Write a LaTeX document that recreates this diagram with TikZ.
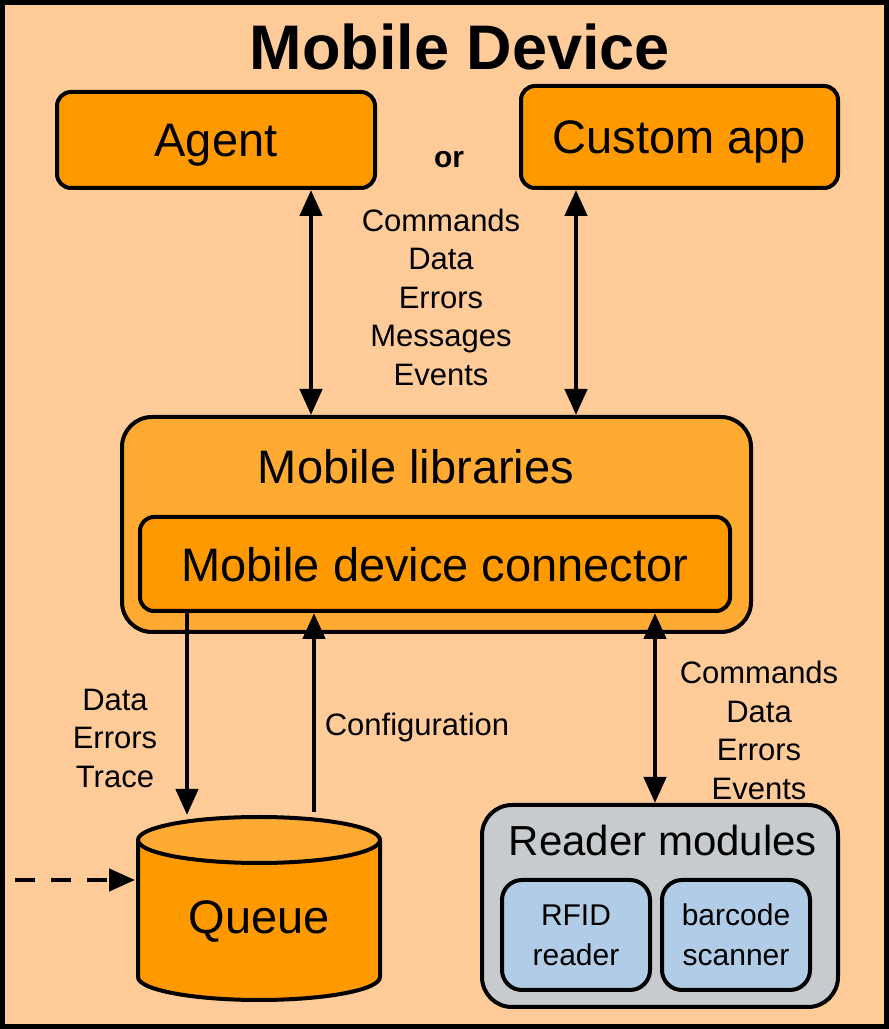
\documentclass[tikz,border=0pt]{standalone}
\usepackage{fontspec}
\setmainfont{Liberation Sans}
\usetikzlibrary{arrows.meta,calc}
\definecolor{peach}{HTML}{FFCC99}
\definecolor{orng}{HTML}{FF9900}
\definecolor{lightorng}{HTML}{FFAA33}
\definecolor{readergray}{HTML}{C8CBCE}
\definecolor{readerblue}{HTML}{B1CCE6}
\def\fs#1#2{\fontsize{#1}{#2}\selectfont}

\begin{document}
\begin{tikzpicture}[x=1pt,y=1pt,
	box/.style={draw, line width=4pt, fill=orng, rounded corners=14pt, inner sep=0pt, text depth=0pt},
	conn/.style={line width=4.5pt, -{Triangle[length=26pt,width=22pt]}},
	twoway/.style={line width=4.5pt, {Triangle[length=26pt,width=22pt]}-{Triangle[length=26pt,width=22pt]}},
	lbl/.style={align=center, font=\fs{31}{38.5}}]
		%%%%% START %%%%%
		
		\useasboundingbox (0,0) rectangle (889,1029);
		\fill[peach] (0,0) rectangle (889,1029);
		\draw[line width=5pt] (2.5,2.5) rectangle (886.5,1026.5);
		
		\node[anchor=base, font=\fs{63}{70}\bfseries] (title) at (460,959) {Mobile Device};
		
		\node[box, minimum width=318, minimum height=96] (agent) at (216,889) {\fs{47}{56}Agent};
		\node[box, minimum width=317, minimum height=102] (custom) at (679.5,892) {\fs{47}{56}Custom app};
		\node[font=\fs{30}{36}\bfseries] (or) at (449,869) {or};
		
		\node[box, fill=lightorng, rounded corners=30pt, minimum width=629, minimum height=215] (libs) at (436.5,504.5) {};
		\node (libtitle) at (416,562) {\fs{47}{56}Mobile libraries};
		\node[box, minimum width=590, minimum height=94] (connector) at (435,465) {\fs{47}{56}Mobile device connector};
		
		\draw[twoway] ($(agent.south)+(95,0)$) -- ($(libs.north)+(-125.5,0)$);
		\draw[twoway] ($(custom.south)+(-103.5,0)$) -- ($(libs.north)+(139.5,0)$);
		\node[lbl] (applbl) at (441,732) {Commands\\Data\\Errors\\Messages\\Events};
		
		% queue
		\fill[orng] (138,189) -- (138,52) arc[start angle=180, end angle=360, x radius=121, y radius=23] -- (380,189) -- cycle;
		\draw[line width=4pt, fill=lightorng] (259,189) ellipse[x radius=121, y radius=23];
		\draw[line width=4pt] (138,189) -- (138,52) arc[start angle=180, end angle=360, x radius=121, y radius=23] -- (380,189);
		\coordinate (qtop) at (187,214);
		\coordinate (qcfg) at (314,217);
		\coordinate (qleft) at (135,149);
		\coordinate (feed) at (15,149);
		\node (queue) at (259,107) {\fs{47}{56}Queue};
		
		\draw[conn, dash pattern=on 20pt off 16pt] (feed) -- (qleft);
		\draw[conn] (connector.south -| qtop) -- (qtop);
		\draw[conn] (qcfg) -- (connector.south -| qcfg);
		\node[lbl] (qlbl) at (115,291) {Data\\Errors\\Trace};
		\node[lbl] (cfglbl) at (417,302) {Configuration};
		
		% reader modules
		\node[box, fill=readergray, rounded corners=30pt, minimum width=356, minimum height=202] (reader) at (660,123) {};
		\node (readertitle) at (663,189) {\fs{42}{50}Reader modules};
		\node[box, fill=readerblue, rounded corners=20pt, minimum width=148, minimum height=110, align=center, font=\fs{30}{40}] (rfid) at (576,94) {RFID\\reader};
		\node[box, fill=readerblue, rounded corners=20pt, minimum width=148, minimum height=110, align=center, font=\fs{30}{40}] (barcode) at (736,94) {barcode\\scanner};
		
		\draw[twoway] ($(connector.south)+(220,0)$) -- ($(reader.north)+(-5,0)$);
		\node[lbl] (rdlbl) at (759,298.5) {Commands\\Data\\Errors\\Events};
		
		%%%%% END %%%%%
	\end{tikzpicture}
\end{document}
